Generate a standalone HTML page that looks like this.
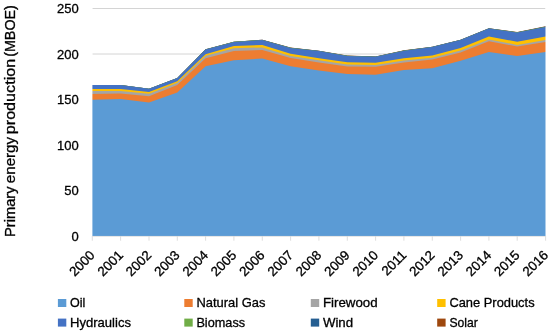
<!DOCTYPE html>
<html><head><meta charset="utf-8"><title>Primary energy production</title>
<style>
html,body{margin:0;padding:0;background:#fff;}
svg{display:block;font-family:"Liberation Sans",sans-serif;fill:#000;}
text{stroke:#000;stroke-width:0.3px;}
</style></head><body>
<svg width="550" height="331" viewBox="0 0 550 331">
<rect width="550" height="331" fill="#fff"/>
<line x1="92.3" x2="545.5" y1="8.5" y2="8.5" stroke="#d4d4d4" stroke-width="1"/>
<line x1="92.3" x2="545.5" y1="54.0" y2="54.0" stroke="#d4d4d4" stroke-width="1"/>
<line x1="92.3" x2="545.5" y1="99.5" y2="99.5" stroke="#d4d4d4" stroke-width="1"/>
<line x1="92.3" x2="545.5" y1="145.0" y2="145.0" stroke="#d4d4d4" stroke-width="1"/>
<line x1="92.3" x2="545.5" y1="190.5" y2="190.5" stroke="#d4d4d4" stroke-width="1"/>
<line x1="92.3" x2="545.5" y1="236.0" y2="236.0" stroke="#d4d4d4" stroke-width="1"/>
<polygon fill="#9E480E" points="88,240 88,84.92 92.3,84.92 120.6,84.89 149.0,88.66 177.3,77.94 205.6,49.31 233.9,41.68 262.3,39.75 290.6,47.62 318.9,50.80 347.3,55.57 375.6,56.44 403.9,50.31 432.3,46.68 460.6,39.65 488.9,28.13 517.2,32.10 545.6,26.37 549,26.37 549,240"/>
<polygon fill="#255E91" points="88,240 88,84.94 92.3,84.94 120.6,84.92 149.0,88.70 177.3,77.98 205.6,49.36 233.9,41.73 262.3,39.81 290.6,47.69 318.9,50.87 347.3,55.65 375.6,56.53 403.9,50.41 432.3,46.79 460.6,39.77 488.9,28.24 517.2,32.22 545.6,26.50 549,26.50 549,240"/>
<polygon fill="#70AD47" points="88,240 88,84.96 92.3,84.96 120.6,84.95 149.0,88.74 177.3,78.03 205.6,49.41 233.9,41.80 262.3,39.89 290.6,47.78 318.9,50.96 347.3,55.75 375.6,56.64 403.9,50.52 432.3,46.91 460.6,39.90 488.9,28.39 517.2,32.37 545.6,26.66 549,26.66 549,240"/>
<polygon fill="#4472C4" points="88,240 88,85.00 92.3,85.00 120.6,85.00 149.0,88.80 177.3,78.10 205.6,49.50 233.9,41.90 262.3,40.00 290.6,47.90 318.9,51.10 347.3,55.90 375.6,56.80 403.9,50.70 432.3,47.10 460.6,40.10 488.9,28.60 517.2,32.60 545.6,26.90 549,26.90 549,240"/>
<polygon fill="#FFC000" points="88,240 88,88.90 92.3,88.90 120.6,88.90 149.0,92.00 177.3,81.30 205.6,54.20 233.9,45.90 262.3,45.10 290.6,53.80 318.9,58.20 347.3,62.30 375.6,62.70 403.9,58.30 432.3,55.40 460.6,48.00 488.9,36.60 517.2,41.70 545.6,36.60 549,36.60 549,240"/>
<polygon fill="#A5A5A5" points="88,240 88,91.00 92.3,91.00 120.6,90.90 149.0,93.80 177.3,82.70 205.6,55.80 233.9,48.20 262.3,47.40 290.6,56.00 318.9,60.30 347.3,64.60 375.6,64.90 403.9,60.50 432.3,57.80 460.6,50.50 488.9,39.40 517.2,44.90 545.6,40.10 549,40.10 549,240"/>
<polygon fill="#ED7D31" points="88,240 88,94.00 92.3,94.00 120.6,93.50 149.0,96.20 177.3,84.90 205.6,58.30 233.9,51.00 262.3,50.00 290.6,57.90 318.9,62.40 347.3,66.50 375.6,66.80 403.9,62.40 432.3,59.60 460.6,52.50 488.9,41.20 517.2,46.60 545.6,42.00 549,42.00 549,240"/>
<polygon fill="#5B9BD5" points="88,240 88,99.70 92.3,99.70 120.6,98.90 149.0,102.40 177.3,92.60 205.6,66.30 233.9,60.30 262.3,58.50 290.6,66.20 318.9,70.50 347.3,74.10 375.6,74.80 403.9,70.00 432.3,68.30 460.6,60.70 488.9,51.90 517.2,56.00 545.6,51.90 549,51.90 549,240"/>
<rect x="80" y="0" width="12.4" height="245" fill="#fff"/><rect x="545.5" y="0" width="4.5" height="245" fill="#fff"/><rect x="80" y="236" width="470" height="10" fill="#fff"/>
<line x1="92.3" x2="545.5" y1="236.4" y2="236.4" stroke="#d9d9d9" stroke-width="0.7"/>
<line x1="92.3" x2="92.3" y1="236" y2="240.7" stroke="#d9d9d9" stroke-width="0.9"/>
<line x1="120.6" x2="120.6" y1="236" y2="240.7" stroke="#d9d9d9" stroke-width="0.9"/>
<line x1="149.0" x2="149.0" y1="236" y2="240.7" stroke="#d9d9d9" stroke-width="0.9"/>
<line x1="177.3" x2="177.3" y1="236" y2="240.7" stroke="#d9d9d9" stroke-width="0.9"/>
<line x1="205.6" x2="205.6" y1="236" y2="240.7" stroke="#d9d9d9" stroke-width="0.9"/>
<line x1="233.9" x2="233.9" y1="236" y2="240.7" stroke="#d9d9d9" stroke-width="0.9"/>
<line x1="262.3" x2="262.3" y1="236" y2="240.7" stroke="#d9d9d9" stroke-width="0.9"/>
<line x1="290.6" x2="290.6" y1="236" y2="240.7" stroke="#d9d9d9" stroke-width="0.9"/>
<line x1="318.9" x2="318.9" y1="236" y2="240.7" stroke="#d9d9d9" stroke-width="0.9"/>
<line x1="347.3" x2="347.3" y1="236" y2="240.7" stroke="#d9d9d9" stroke-width="0.9"/>
<line x1="375.6" x2="375.6" y1="236" y2="240.7" stroke="#d9d9d9" stroke-width="0.9"/>
<line x1="403.9" x2="403.9" y1="236" y2="240.7" stroke="#d9d9d9" stroke-width="0.9"/>
<line x1="432.3" x2="432.3" y1="236" y2="240.7" stroke="#d9d9d9" stroke-width="0.9"/>
<line x1="460.6" x2="460.6" y1="236" y2="240.7" stroke="#d9d9d9" stroke-width="0.9"/>
<line x1="488.9" x2="488.9" y1="236" y2="240.7" stroke="#d9d9d9" stroke-width="0.9"/>
<line x1="517.2" x2="517.2" y1="236" y2="240.7" stroke="#d9d9d9" stroke-width="0.9"/>
<line x1="545.6" x2="545.6" y1="236" y2="240.7" stroke="#d9d9d9" stroke-width="0.9"/>
<text x="78.8" y="13.1" font-size="13" text-anchor="end">250</text>
<text x="78.8" y="58.6" font-size="13" text-anchor="end">200</text>
<text x="78.8" y="104.1" font-size="13" text-anchor="end">150</text>
<text x="78.8" y="149.6" font-size="13" text-anchor="end">100</text>
<text x="78.8" y="195.1" font-size="13" text-anchor="end">50</text>
<text x="78.8" y="240.6" font-size="13" text-anchor="end">0</text>
<text x="95.6" y="256.0" font-size="13.3" text-anchor="end" transform="rotate(-45 95.6 256.0)">2000</text>
<text x="123.9" y="256.0" font-size="13.3" text-anchor="end" transform="rotate(-45 123.9 256.0)">2001</text>
<text x="152.3" y="256.0" font-size="13.3" text-anchor="end" transform="rotate(-45 152.3 256.0)">2002</text>
<text x="180.6" y="256.0" font-size="13.3" text-anchor="end" transform="rotate(-45 180.6 256.0)">2003</text>
<text x="208.9" y="256.0" font-size="13.3" text-anchor="end" transform="rotate(-45 208.9 256.0)">2004</text>
<text x="237.2" y="256.0" font-size="13.3" text-anchor="end" transform="rotate(-45 237.2 256.0)">2005</text>
<text x="265.6" y="256.0" font-size="13.3" text-anchor="end" transform="rotate(-45 265.6 256.0)">2006</text>
<text x="293.9" y="256.0" font-size="13.3" text-anchor="end" transform="rotate(-45 293.9 256.0)">2007</text>
<text x="322.2" y="256.0" font-size="13.3" text-anchor="end" transform="rotate(-45 322.2 256.0)">2008</text>
<text x="350.6" y="256.0" font-size="13.3" text-anchor="end" transform="rotate(-45 350.6 256.0)">2009</text>
<text x="378.9" y="256.0" font-size="13.3" text-anchor="end" transform="rotate(-45 378.9 256.0)">2010</text>
<text x="407.2" y="256.0" font-size="13.3" text-anchor="end" transform="rotate(-45 407.2 256.0)">2011</text>
<text x="435.6" y="256.0" font-size="13.3" text-anchor="end" transform="rotate(-45 435.6 256.0)">2012</text>
<text x="463.9" y="256.0" font-size="13.3" text-anchor="end" transform="rotate(-45 463.9 256.0)">2013</text>
<text x="492.2" y="256.0" font-size="13.3" text-anchor="end" transform="rotate(-45 492.2 256.0)">2014</text>
<text x="520.5" y="256.0" font-size="13.3" text-anchor="end" transform="rotate(-45 520.5 256.0)">2015</text>
<text x="548.9" y="256.0" font-size="13.3" text-anchor="end" transform="rotate(-45 548.9 256.0)">2016</text>
<text x="14.6" y="237.0" font-size="14.4" textLength="50.6" lengthAdjust="spacingAndGlyphs" transform="rotate(-90 14.6 237.0)">Primary</text>
<text x="14.6" y="183.2" font-size="14.4" textLength="46.3" lengthAdjust="spacingAndGlyphs" transform="rotate(-90 14.6 183.2)">energy</text>
<text x="14.6" y="134.2" font-size="14.4" textLength="75.4" lengthAdjust="spacingAndGlyphs" transform="rotate(-90 14.6 134.2)">production</text>
<text x="14.6" y="56.8" font-size="14.4" textLength="51.6" lengthAdjust="spacingAndGlyphs" transform="rotate(-90 14.6 56.8)">(MBOE)</text>
<rect x="57.9" y="299.0" width="8.4" height="8" fill="#5B9BD5"/>
<text x="70.0" y="306.9" font-size="12.6" textLength="15.3" lengthAdjust="spacingAndGlyphs">Oil</text>
<rect x="184.3" y="299.0" width="8.4" height="8" fill="#ED7D31"/>
<text x="196.4" y="306.9" font-size="12.6" textLength="69" lengthAdjust="spacingAndGlyphs">Natural Gas</text>
<rect x="310.8" y="299.0" width="8.4" height="8" fill="#A5A5A5"/>
<text x="322.9" y="306.9" font-size="12.6" textLength="54.8" lengthAdjust="spacingAndGlyphs">Firewood</text>
<rect x="437.2" y="299.0" width="8.4" height="8" fill="#FFC000"/>
<text x="449.4" y="306.9" font-size="12.6" textLength="85.2" lengthAdjust="spacingAndGlyphs">Cane Products</text>
<rect x="57.9" y="318.6" width="8.4" height="8" fill="#4472C4"/>
<text x="70.0" y="326.5" font-size="12.6" textLength="61" lengthAdjust="spacingAndGlyphs">Hydraulics</text>
<rect x="184.3" y="318.6" width="8.4" height="8" fill="#70AD47"/>
<text x="196.4" y="326.5" font-size="12.6" textLength="48.7" lengthAdjust="spacingAndGlyphs">Biomass</text>
<rect x="310.8" y="318.6" width="8.4" height="8" fill="#255E91"/>
<text x="322.9" y="326.5" font-size="12.6" textLength="30.2" lengthAdjust="spacingAndGlyphs">Wind</text>
<rect x="437.2" y="318.6" width="8.4" height="8" fill="#9E480E"/>
<text x="449.4" y="326.5" font-size="12.6" textLength="28.4" lengthAdjust="spacingAndGlyphs">Solar</text>
</svg></body></html>
